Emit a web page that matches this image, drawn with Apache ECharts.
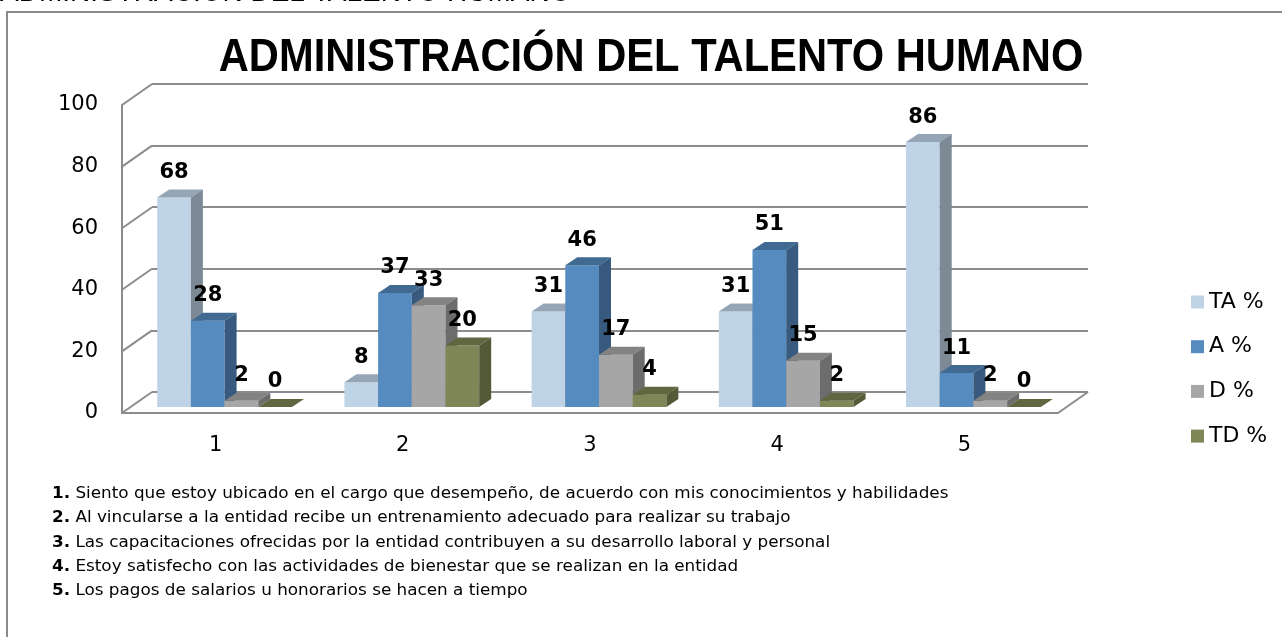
<!DOCTYPE html>
<html>
<head>
<meta charset="utf-8">
<script src="https://cdn.jsdelivr.net/npm/echarts@6/dist/echarts.min.js"></script>
<style>
html,body{margin:0;padding:0;background:#fff;}
#chart{width:1282px;height:637px;}
</style>
</head>
<body>
<div id="chart"></div>
<script>
// ---- data ----
var categories = ['1', '2', '3', '4', '5'];
var seriesNames = ['TA %', 'A %', 'D %', 'TD %'];
var taValues = [68, 8, 31, 31, 86];
var aValues = [28, 37, 46, 51, 11];
var dValues = [2, 33, 17, 15, 2];
var tdValues = [0, 20, 4, 2, 0];
var yTicks = [0, 20, 40, 60, 80, 100];
var footnotes = [
  ['1.', 'Siento que estoy ubicado en el cargo que desempeño, de acuerdo con mis conocimientos y habilidades'],
  ['2.', 'Al vincularse a la entidad recibe un entrenamiento adecuado para realizar su trabajo'],
  ['3.', 'Las capacitaciones ofrecidas por la entidad contribuyen a su desarrollo laboral y personal'],
  ['4.', 'Estoy satisfecho con las actividades de bienestar que se realizan en la entidad'],
  ['5.', 'Los pagos de salarios u honorarios se hacen a tiempo']
];
var titleText = 'ADMINISTRACIÓN DEL TALENTO HUMANO';

// ---- styles ----
var allValues = [taValues, aValues, dValues, tdValues];
var frontColors = ['#BFD3E6', '#558BBE', '#A6A6A6', '#7F8759'];
var topColors   = ['#95A5B5', '#416A92', '#838383', '#60663F'];
var sideColors  = ['#7D8A96', '#375A7E', '#6C6C6C', '#545A38'];
var BACK_DX = 30, BACK_DY = -21;
var PLANE_DX = 9, PLANE_DY = -6;
var DEPTH_DX = 12, DEPTH_DY = -8;
var BAR_FRAC = 0.18;
var GRID_LEFT = 122, GRID_TOP = 105, GRID_W = 936, GRID_H = 308;
var lineColor = '#8C8C8C';

function barRenderer(si) {
  return function (params, api) {
    var ci = api.value(0), v = api.value(1);
    var base = api.coord([ci, 0]);
    var top = api.coord([ci, v]);
    var band = api.size([1, 0])[0];
    var w = band * BAR_FRAC;
    var x0 = base[0] + PLANE_DX + (si - 2) * w;
    var yb = base[1] + PLANE_DY;
    var yt = top[1] + PLANE_DY;
    var dx = DEPTH_DX, dy = DEPTH_DY;
    return {
      type: 'group',
      children: [
        { type: 'rect', shape: { x: x0, y: yt, width: w, height: yb - yt }, style: { fill: frontColors[si] } },
        { type: 'polygon', shape: { points: [[x0, yt], [x0 + dx, yt + dy], [x0 + w + dx, yt + dy], [x0 + w, yt]] }, style: { fill: topColors[si] } },
        { type: 'polygon', shape: { points: [[x0 + w, yt], [x0 + w + dx, yt + dy], [x0 + w + dx, yb + dy], [x0 + w, yb]] }, style: { fill: sideColors[si] } },
        { type: 'text', x: x0 + w / 2, y: yt - 25, style: { text: String(v), fill: '#000', font: 'bold 21px "DejaVu Sans"', textAlign: 'center', textVerticalAlign: 'middle' } }
      ]
    };
  };
}

var series = [];
series.push({
  type: 'custom',
  xAxisIndex: 0, yAxisIndex: 0,
  clip: false, silent: true, z: 1,
  data: yTicks.map(function (t) { return [0, t]; }),
  renderItem: function (params, api) {
    var p = api.coord([0, api.value(1)]);
    var band = api.size([1, 0])[0];
    var x = p[0] - band / 2;
    return { type: 'line', shape: { x1: x, y1: p[1], x2: x + BACK_DX, y2: p[1] + BACK_DY }, style: { stroke: lineColor, lineWidth: 2 } };
  }
});
series.push({
  type: 'custom',
  xAxisIndex: 0, yAxisIndex: 0,
  clip: false, silent: true, z: 1,
  data: [[categories.length - 1, 0]],
  renderItem: function (params, api) {
    var p = api.coord([api.value(0), 0]);
    var band = api.size([1, 0])[0];
    var x = p[0] + band / 2;
    return { type: 'line', shape: { x1: x, y1: p[1], x2: x + BACK_DX, y2: p[1] + BACK_DY }, style: { stroke: lineColor, lineWidth: 2 } };
  }
});
seriesNames.forEach(function (name, si) {
  series.push({
    name: name,
    type: 'custom',
    xAxisIndex: 0, yAxisIndex: 0,
    clip: false, z: 3,
    itemStyle: { color: frontColors[si] },
    data: allValues[si].map(function (v, ci) { return [ci, v]; }),
    renderItem: barRenderer(si)
  });
});

var graphics = [
  { type: 'rect', shape: { x: 7, y: 12, width: 1400, height: 800 }, style: { fill: 'none', stroke: '#8A8A8A', lineWidth: 2 }, z: 0 },
  { type: 'text', x: 0, y: 7, style: { text: titleText, font: '28px "Liberation Sans"', fill: '#000', textAlign: 'left', textVerticalAlign: 'bottom' } },
  { type: 'text', x: 651, y: 58, scaleX: 0.887, style: { text: titleText, font: 'bold 47px "Liberation Sans"', fill: '#000', textAlign: 'center', textVerticalAlign: 'middle' } }
];
footnotes.forEach(function (f, i) {
  graphics.push({
    type: 'text', x: 52, y: 494 + 24.3 * i, scaleX: 1.05,
    style: {
      text: '{b|' + f[0] + '} ' + f[1],
      font: '16px "DejaVu Sans"', fill: '#000', textVerticalAlign: 'middle',
      rich: { b: { fontWeight: 'bold', fontSize: 16, fontFamily: 'DejaVu Sans' } }
    }
  });
});

var chart = echarts.init(document.getElementById('chart'), null, { renderer: 'canvas' });
chart.setOption({
  backgroundColor: '#fff',
  animation: false,
  textStyle: { fontFamily: 'DejaVu Sans' },
  legend: {
    orient: 'vertical', left: 1191, top: 291, padding: 0,
    icon: 'rect', itemWidth: 13, itemHeight: 13, itemGap: 22.7,
    data: seriesNames,
    textStyle: { fontSize: 22, color: '#000', fontFamily: 'DejaVu Sans', lineHeight: 22, padding: [0, 0, 0, 0] }
  },
  grid: [
    { left: GRID_LEFT, top: GRID_TOP, width: GRID_W, height: GRID_H },
    { left: GRID_LEFT + BACK_DX, top: GRID_TOP + BACK_DY, width: GRID_W, height: GRID_H }
  ],
  xAxis: [
    { type: 'category', gridIndex: 0, data: categories,
      axisLine: { show: true, lineStyle: { color: lineColor, width: 2 } },
      axisTick: { show: false },
      axisLabel: { color: '#000', fontSize: 21, margin: 22 } },
    { type: 'category', gridIndex: 1, data: categories, show: false }
  ],
  yAxis: [
    { type: 'value', gridIndex: 0, min: 0, max: 100, interval: 20,
      axisLine: { show: true, lineStyle: { color: lineColor, width: 2 } },
      axisTick: { show: false },
      splitLine: { show: false },
      axisLabel: { color: '#000', fontSize: 21, margin: 24 } },
    { type: 'value', gridIndex: 1, min: 0, max: 100, interval: 20,
      axisLine: { show: false }, axisTick: { show: false }, axisLabel: { show: false },
      splitLine: { show: true, lineStyle: { color: lineColor, width: 2 } } }
  ],
  graphic: graphics,
  series: series
});
</script>
</body>
</html>
